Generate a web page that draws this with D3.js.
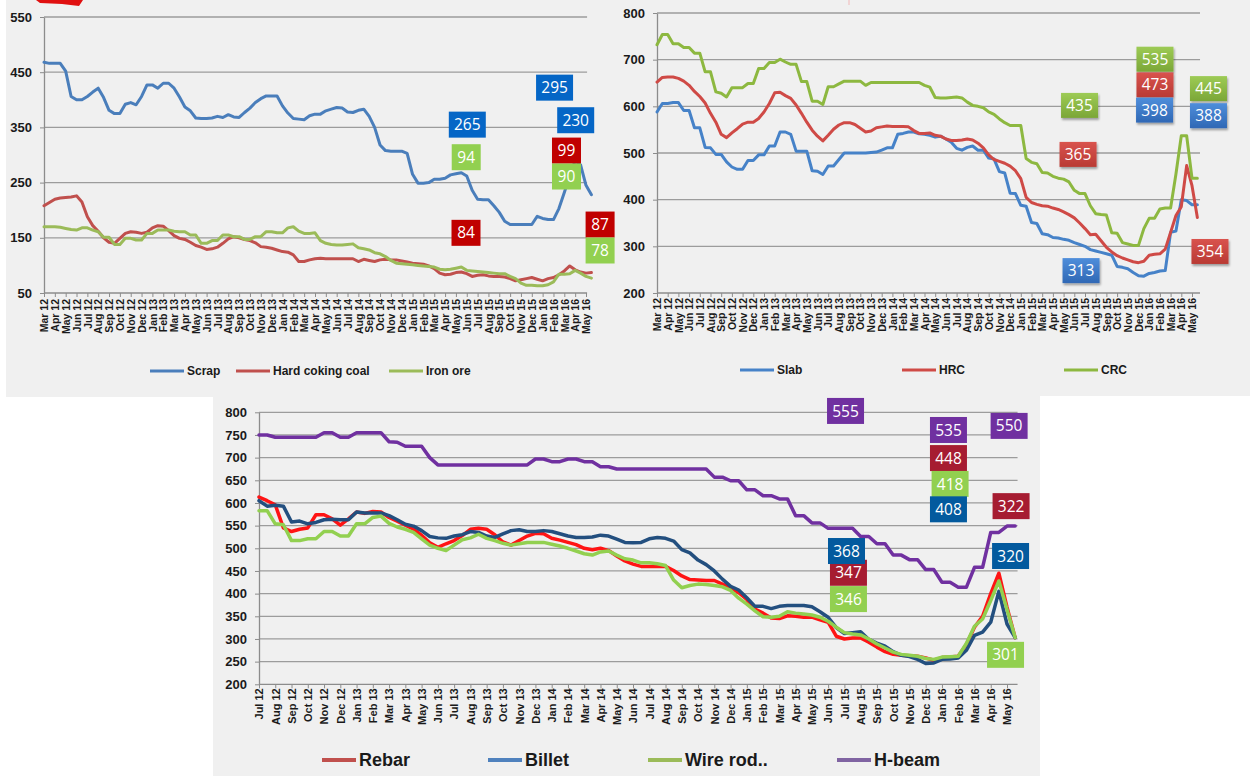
<!DOCTYPE html>
<html>
<head>
<meta charset="utf-8">
<script src="https://cdn.jsdelivr.net/npm/d3@7"></script>
<style>
  body { margin: 0; background: #fff; }
  svg { display: block; font-family: "Liberation Sans", Arial, sans-serif; }
</style>
</head>
<body>
<svg id="chart" width="1250" height="776"></svg>
<script>
// Steel & raw material prices, half-month samples (index 0 = first month label)

const topMonths = ["Mar 12","Apr 12","May 12","Jun 12","Jul 12","Aug 12","Sep 12","Oct 12","Nov 12","Dec 12",
  "Jan 13","Feb 13","Mar 13","Apr 13","May 13","Jun 13","Jul 13","Aug 13","Sep 13","Oct 13","Nov 13","Dec 13",
  "Jan 14","Feb 14","Mar 14","Apr 14","May 14","Jun 14","Jul 14","Aug 14","Sep 14","Oct 14","Nov 14","Dec 14",
  "Jan 15","Feb 15","Mar 15","Apr 15","May 15","Jun 15","Jul 15","Aug 15","Sep 15","Oct 15","Nov 15","Dec 15",
  "Jan 16","Feb 16","Mar 16","Apr 16","May 16"];
const bottomMonths = topMonths.slice(4);

// raw materials
const scrap = [468,466,466,466,452,406,400,400,406,414, 421,404,381,375,375,392,395,391,406,427,
  427,421,430,430,421,405,387,380,367,366, 366,367,370,368,373,369,368,377,385,395,
  402,407,407,407,389,376,366,365,364,371, 374,374,380,383,386,385,378,377,381,383,
  370,350,318,308,307,307,307,303,265,249, 249,250,256,256,258,264,266,268,262,236,
  220,219,219,208,196,180,174,174,174,174, 174,189,185,183,183,203,232,262,290,282, 245,228];
const cokingCoal = [208,214,220,222,223,224,226,215,188,172, 162,150,142,140,149,158,161,160,158,160,
  168,172,171,163,154,149,147,142,136,133, 129,130,133,140,148,152,150,147,145,141,
  134,133,131,128,125,124,119,107,107,110, 112,113,112,112,112,112,112,112,107,111,
  109,107,110,111,110,110,108,106,104,103, 102,99,94,86,83,84,87,88,85,80,
  82,83,81,80,80,79,76,72,74,76, 78,75,72,76,78,83,90,99,92,88, 86,87];
const ironOre = [170,170,170,169,167,165,164,168,168,164, 161,151,151,138,138,149,149,146,146,158,
  158,164,164,164,162,161,161,155,155,140, 140,145,145,155,155,152,152,147,147,152,
  152,161,161,159,159,168,170,162,158,158, 159,145,140,138,137,137,138,139,132,130,
  128,123,121,116,109,104,103,102,101,100, 99,98,97,93,92,93,95,97,91,90,
  89,88,87,86,85,85,80,76,68,64, 64,63,63,65,70,84,84,85,91,86, 80,77];

// flat products
const slab = [588,606,606,608,608,591,591,554,554,512, 511,497,497,481,470,465,465,484,484,496,
  496,515,515,545,545,540,504,504,504,462, 461,454,472,472,486,500,500,500,500,500,
  501,502,506,511,511,540,542,545,545,541, 540,538,534,536,530,523,510,506,512,515,
  506,506,489,487,460,457,414,413,388,386, 351,349,327,325,319,318,315,313,308,304,
  300,293,290,287,284,281,257,255,252,244, 237,236,242,244,247,248,330,333,400,398, 389,389];
const hrc = [652,662,663,663,660,654,645,632,621,607, 585,566,540,533,543,552,562,566,566,574,
  588,606,629,630,623,617,603,585,566,549, 536,526,538,551,560,565,565,561,553,545,
  547,554,556,558,557,557,557,556,548,542, 542,543,538,536,530,527,527,528,530,528,
  521,511,496,486,482,478,472,462,445,405, 394,390,387,386,382,379,374,368,361,350,
  338,325,326,312,298,288,280,275,271,267, 265,268,281,283,284,294,330,366,385,473, 430,362];
const crc = [732,754,754,734,734,726,726,714,714,674, 674,631,628,620,640,640,640,649,649,681,
  681,694,694,701,695,690,690,653,653,611, 611,604,642,642,648,654,654,654,654,645,
  651,651,651,651,651,651,651,651,651,651, 645,641,619,618,618,619,620,618,609,602,
  600,597,588,583,573,565,559,559,559,488, 480,477,458,457,450,446,444,438,420,413,
  413,387,370,368,367,329,328,308,305,302, 302,338,360,360,380,382,382,455,537,537, 446,446];

// long products
const rebar = [613,605,596,545,537,542,545,574,574,565, 551,565,580,577,581,580,568,560,551,542,
  529,512,502,510,517,528,542,544,542,530, 514,507,517,527,533,532,522,518,513,508,
  500,497,500,495,483,472,465,460,460,460, 460,451,439,431,430,429,429,421,414,402,
  387,366,357,346,345,351,350,348,348,342, 337,306,300,302,302,293,282,272,266,264,
  263,262,258,253,259,260,262,288,326,350, 400,445,370,303];
const billet = [605,593,595,593,558,560,554,557,563,564, 563,563,580,578,578,578,572,563,553,549,
  539,526,523,522,527,530,537,535,527,524, 532,539,541,537,537,539,537,532,527,524,
  524,525,529,527,520,513,512,513,521,524, 522,516,497,490,474,464,450,432,416,408,
  391,372,372,367,372,374,374,374,371,360, 348,325,312,314,316,299,291,284,272,264,
  261,255,246,247,255,256,258,275,308,315, 337,405,333,303];
const wireRod = [583,583,554,552,517,517,521,521,537,537, 527,527,554,554,568,571,555,547,542,535,
  521,507,500,495,507,519,523,531,522,517, 511,507,510,513,513,513,509,505,500,494,
  488,485,492,494,485,477,474,468,468,466, 462,430,413,418,421,420,418,415,407,390,
  377,362,349,348,350,360,357,355,353,348, 339,326,314,311,309,300,289,280,271,266,
  264,262,257,255,260,261,262,290,328,344, 385,428,365,303];
const hBeam = [750,750,745,745,745,745,745,745,755,755, 745,745,755,755,755,755,735,734,725,725,
  725,700,684,684,684,684,684,684,684,684, 684,684,684,684,697,697,691,691,697,697,
  691,691,680,680,675,675,675,675,675,675, 675,675,675,675,675,675,657,657,649,649,
  629,629,616,616,609,609,572,572,556,556, 544,544,544,544,526,526,510,510,485,485,
  475,475,453,453,425,425,414,414,458,458, 535,535,549,549];

// callout labels: text, colour key, anchor [month index, value]
const rawNotes = [["295","b",47.1,422],["265","b",39.05,355],["230","b",49.05,363],["94","g",38.95,296],
  ["99","r",48.2,308],["90","g",48.2,261],["84","r",38.93,159],["87","r",51.3,174],["78","g",51.3,127]];
const flatNotes = [["535","g",46.54,701],["473","r",46.54,646],["398","b",46.5,592],["445","g",51.54,638],
  ["388","b",51.54,580],["435","g",39.49,602],["365","r",39.35,497],["313","b",39.63,248],["354","r",51.68,289]];
const longNotes = [["555","p",36.07,803],["535","p",42.4,761],["448","r",42.4,699],["418","g",42.5,642],
  ["408","b",42.4,586],["550","p",46.13,770],["322","r",46.25,593],["320","b",46.22,483],
  ["347","r",36.25,446],["368","b",36.13,494],["346","g",36.25,388],["301","g",45.91,265]];

const svg = d3.select("#chart");
const defs = svg.append("defs");

// gray slide background
[[6,0,614,397],[618,0,632,396],[213,395,827,381]].forEach(r => {
  svg.append("rect").attr("x", r[0]).attr("y", r[1]).attr("width", r[2]).attr("height", r[3]).attr("fill", "#f0f0f0");
});
// bits of neighbouring slide graphics
svg.append("path").attr("d", "M36,0 L83,0 L79,6 L62,4 L40,3 Z").attr("fill", "#e01010");
svg.append("line").attr("x1", 849).attr("x2", 849).attr("y1", 0).attr("y2", 5).attr("stroke", "#f2b8b8");

// flat-panel callouts use shaded boxes
const shade = defs.append("filter").attr("id", "shadow").attr("x", "-20%").attr("y", "-20%").attr("width", "150%").attr("height", "160%");
shade.append("feDropShadow").attr("dx", 1).attr("dy", 2).attr("stdDeviation", 1.2).attr("flood-opacity", 0.35);
[["gg","#9dcb55","#7ba637"],["gr","#d9534e","#b93a34"],["gb","#4f8edb","#2f68b5"]].forEach(c => {
  const lg = defs.append("linearGradient").attr("id", c[0]).attr("x1", 0).attr("x2", 0).attr("y1", 0).attr("y2", 1);
  lg.append("stop").attr("offset", "0%").attr("stop-color", c[1]);
  lg.append("stop").attr("offset", "100%").attr("stop-color", c[2]);
});

function drawPanel(p) {
  const g = svg.append("g");
  const x = d3.scaleLinear().domain([0, p.labels.length - 1]).range(p.xRange);
  const y = d3.scaleLinear().domain(p.yDomain).range(p.yRange);
  const ticks = d3.range(p.yDomain[0], p.yDomain[1] + 1, p.yStep);
  const x0 = x(0), xEnd = x(p.gridEnd), yBase = y(p.yDomain[0]);

  // gridlines
  g.append("g").selectAll("line").data(ticks.slice(1)).join("line")
    .attr("x1", x0).attr("x2", xEnd).attr("y1", d => y(d)).attr("y2", d => y(d))
    .attr("stroke", "#9c9c9c").attr("stroke-width", 1.3);

  // y axis
  const ya = g.append("g").attr("transform", `translate(${x0},0)`)
    .call(d3.axisLeft(y).tickValues(ticks).tickSize(4).tickPadding(p.yPad).tickSizeOuter(0));
  ya.select(".domain").attr("stroke", "#8c8c8c").attr("stroke-width", 1.3);
  ya.selectAll(".tick line").attr("stroke", "#8c8c8c");
  ya.selectAll("text").attr("font-size", p.yFont).attr("font-weight", "bold").attr("fill", "#1a1a1a")
    .attr("font-family", "'Liberation Sans', Arial, sans-serif");

  // x axis
  const xa = g.append("g").attr("transform", `translate(0,${yBase})`)
    .call(d3.axisBottom(x).tickValues(d3.range(p.labels.length)).tickFormat(i => p.labels[i]).tickSize(4).tickSizeOuter(0));
  xa.select(".domain").remove();
  xa.selectAll(".tick line").attr("stroke", "#8c8c8c");
  xa.selectAll("text").attr("transform", "rotate(-90)").attr("x", -p.xPad).attr("y", 0).attr("dy", "0.35em")
    .style("text-anchor", "end").attr("font-size", p.xFont).attr("font-weight", "bold").attr("fill", "#1a1a1a")
    .attr("font-family", "'Liberation Sans', Arial, sans-serif");
  g.append("line").attr("x1", x0).attr("x2", xEnd).attr("y1", yBase).attr("y2", yBase)
    .attr("stroke", "#8c8c8c").attr("stroke-width", 1.3);

  // series
  const line = d3.line().x(d => x(d[0])).y(d => y(d[1]));
  p.series.forEach(s => {
    g.append("path").datum(s.values.map((v, k) => [k * 0.5, v]))
      .attr("fill", "none").attr("stroke", s.color).attr("stroke-width", p.lineW)
      .attr("stroke-linejoin", "round").attr("stroke-linecap", "round").attr("d", line);
  });

  // legend
  p.series.forEach((s, k) => {
    const lx = p.legendX[k];
    g.append("line").attr("x1", lx).attr("x2", lx + 34).attr("y1", p.legendY).attr("y2", p.legendY)
      .attr("stroke", s.legendColor || s.color).attr("stroke-width", p.legendW);
    g.append("text").attr("x", lx + 37).attr("y", p.legendY).attr("dy", "0.35em")
      .attr("font-size", p.legendFont).attr("font-weight", "bold").attr("fill", "#1a1a1a").text(s.name);
  });

  // callouts
  p.notes.forEach(n => {
    const cx = x(n[2]), cy = y(n[3]);
    const w = n[0].length === 2 ? 29 : 37, h = p.boxH;
    const r = g.append("rect").attr("x", cx - w / 2).attr("y", cy - h / 2).attr("width", w).attr("height", h)
      .attr("fill", p.boxFill[n[1]]);
    if (p.shadow) r.attr("filter", "url(#shadow)");
    g.append("text").attr("x", cx).attr("y", cy).attr("dy", "0.36em").attr("text-anchor", "middle")
      .attr("font-family", "'Open Sans', 'Noto Sans', sans-serif").attr("font-size", 15.5)
      .attr("fill", "#fff").text(n[0]);
  });
}

drawPanel({
  labels: topMonths, xRange: [44, 586], yDomain: [50, 550], yRange: [293, 17], yStep: 100, gridEnd: 50.1,
  yPad: 8, yFont: 13, xPad: 6, xFont: 10.5, lineW: 3,
  series: [
    { name: "Scrap", values: scrap, color: "#4a7ebb" },
    { name: "Hard coking coal", values: cokingCoal, color: "#c0504d" },
    { name: "Iron ore", values: ironOre, color: "#9bbb59" }
  ],
  legendX: [150, 236, 389], legendY: 371, legendW: 3, legendFont: 12,
  notes: rawNotes, boxH: 26, shadow: false,
  boxFill: { b: "#0566c6", r: "#c00000", g: "#92d050" }
});

drawPanel({
  labels: topMonths, xRange: [657, 1192], yDomain: [200, 800], yRange: [293, 13], yStep: 100, gridEnd: 50.75,
  yPad: 8, yFont: 13, xPad: 5, xFont: 10.5, lineW: 3,
  series: [
    { name: "Slab", values: slab, color: "#4682c8" },
    { name: "HRC", values: hrc, color: "#cf4a46" },
    { name: "CRC", values: crc, color: "#8db840" }
  ],
  legendX: [740, 902, 1064], legendY: 370, legendW: 3, legendFont: 12,
  notes: flatNotes, boxH: 25, shadow: true,
  boxFill: { b: "url(#gb)", r: "url(#gr)", g: "url(#gg)" }
});

drawPanel({
  labels: bottomMonths, xRange: [259, 1007], yDomain: [200, 800], yRange: [684.3, 412.3], yStep: 50, gridEnd: 46.65,
  yPad: 8, yFont: 13, xPad: 4, xFont: 11, lineW: 3.5,
  series: [
    { name: "Rebar", values: rebar, color: "#ff1414", legendColor: "#c0504d" },
    { name: "Billet", values: billet, color: "#234f7f", legendColor: "#4f81bd" },
    { name: "Wire rod..", values: wireRod, color: "#92d050", legendColor: "#9bbb59" },
    { name: "H-beam", values: hBeam, color: "#7030a0", legendColor: "#8064a2" }
  ],
  legendX: [322, 488, 648, 837], legendY: 760, legendW: 4, legendFont: 18,
  notes: longNotes, boxH: 26, shadow: false,
  boxFill: { b: "#035a9e", r: "#a61c31", g: "#92d050", p: "#7030a0" }
});
</script>
</body>
</html>
